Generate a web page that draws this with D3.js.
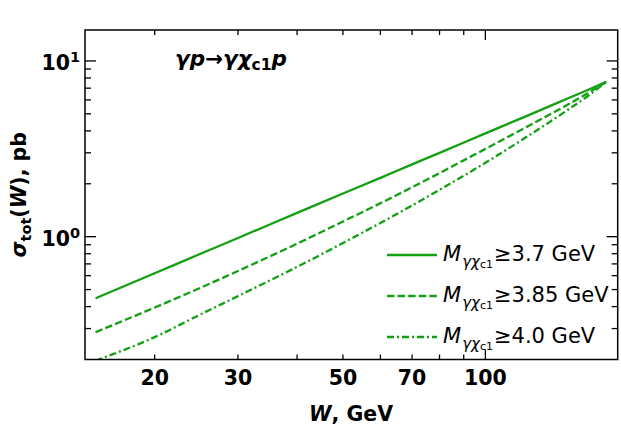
<!DOCTYPE html>
<html>
<head>
<meta charset="utf-8">
<script src="https://cdn.jsdelivr.net/npm/d3@7"></script>
<style>
  body { margin: 0; background: #fff; }
  text { font-family: "DejaVu Sans", sans-serif; }
</style>
</head>
<body>
<svg id="chart" width="621" height="430"></svg>
<script>
// data
const W = [15, 20, 25, 30, 40, 50, 60, 70, 80, 100, 120, 150, 165, 180];
const sig37  = [0.446, 0.619, 0.799, 0.983, 1.365, 1.76, 2.16, 2.58, 3.00, 3.87, 4.76, 6.15, 6.86, 7.6];
const sig385 = [0.286, 0.395, 0.512, 0.638, 0.912, 1.22, 1.55, 1.91, 2.30, 3.16, 4.10, 5.68, 6.58, 7.6];
const sig40  = [0.197, 0.268, 0.361, 0.459, 0.673, 0.92, 1.197, 1.505, 1.846, 2.633, 3.58, 5.31, 6.34, 7.6];
const seriesLabels = ["3.7", "3.85", "4.0"];
const xTickLabels = [20, 30, 50, 70, 100];
const xMinor = [20, 30, 40, 50, 60, 70, 80, 90];
const xMajor = [100];
const yMajor = [1, 10];
const yMinor = [0.3, 0.4, 0.5, 0.6, 0.7, 0.8, 0.9, 2, 3, 4, 5, 6, 7, 8, 9];

const svg = d3.select('#chart');
const pl = 85, pr = 617.7, pt = 30, pb = 359.5;
const green = '#12a012';

const x = d3.scaleLog().domain([14.25, 190.4]).range([pl, pr]);
const y = d3.scaleLog().domain([0.2, 15]).range([pb, pt]);

svg.append('defs').append('clipPath').attr('id', 'clip')
    .append('rect').attr('x', pl).attr('y', pt)
    .attr('width', pr - pl).attr('height', pb - pt);

// curves
const line = d3.line()
    .x(d => x(d[0]))
    .y(d => y(d[1]))
    .curve(d3.curveMonotoneX);

const styles = [
    {data: sig37, dash: null},
    {data: sig385, dash: '7.4,3.2'},
    {data: sig40, dash: '7,3,2,3'}
];

const curves = svg.append('g').attr('clip-path', 'url(#clip)');
styles.forEach(s => {
    curves.append('path')
        .attr('d', line(W.map((w, i) => [w, s.data[i]])))
        .attr('fill', 'none')
        .attr('stroke', green)
        .attr('stroke-width', 2.3)
        .attr('stroke-dasharray', s.dash);
});

// frame
svg.append('rect')
    .attr('x', pl).attr('y', pt)
    .attr('width', pr - pl).attr('height', pb - pt)
    .attr('fill', 'none').attr('stroke', '#000').attr('stroke-width', 1.5);

// ticks, all pointing inward
const ticks = svg.append('g').attr('stroke', '#000').attr('stroke-width', 1.3);
function xTick(v, len) {
    ticks.append('line').attr('x1', x(v)).attr('x2', x(v)).attr('y1', pb).attr('y2', pb - len);
    ticks.append('line').attr('x1', x(v)).attr('x2', x(v)).attr('y1', pt).attr('y2', pt + len);
}
function yTick(v, len) {
    ticks.append('line').attr('y1', y(v)).attr('y2', y(v)).attr('x1', pl).attr('x2', pl + len);
    ticks.append('line').attr('y1', y(v)).attr('y2', y(v)).attr('x1', pr).attr('x2', pr - len);
}
xMinor.forEach(v => xTick(v, 5));
xMajor.forEach(v => xTick(v, 10));
yMinor.forEach(v => yTick(v, 6));
yMajor.forEach(v => yTick(v, 11));

// tick labels
svg.append('g').selectAll('text')
    .data(xTickLabels)
    .enter()
    .append('text')
    .attr('x', d => x(d))
    .attr('y', 385)
    .attr('text-anchor', 'middle')
    .attr('font-size', 20.5)
    .attr('font-weight', 'bold')
    .text(d => d);

const yl = svg.append('g').selectAll('text')
    .data(yMajor)
    .enter()
    .append('text')
    .attr('x', 80)
    .attr('y', d => y(d) + 9.5)
    .attr('text-anchor', 'end')
    .attr('font-weight', 'bold');
yl.append('tspan').attr('font-size', 20.5).text('10');
yl.append('tspan').attr('font-size', 14.5).attr('dy', -8.5).text(d => Math.round(Math.log10(d)));

// axis labels
const xl = svg.append('text')
    .attr('x', 351).attr('y', 421)
    .attr('text-anchor', 'middle')
    .attr('font-size', 20.5)
    .attr('font-weight', 'bold');
xl.append('tspan').attr('font-style', 'italic').text('W');
xl.append('tspan').text(', GeV');

const ylab = svg.append('text')
    .attr('transform', `translate(26,${(pt + pb) / 2}) rotate(-90)`)
    .attr('text-anchor', 'middle')
    .attr('font-size', 20.5)
    .attr('font-weight', 'bold');
ylab.append('tspan').attr('font-style', 'italic').text('σ');
ylab.append('tspan').attr('font-size', 14.5).attr('dy', 5).text('tot');
ylab.append('tspan').attr('dy', -5).text('(');
ylab.append('tspan').attr('font-style', 'italic').text('W');
ylab.append('tspan').text('), pb');

// process title
const title = svg.append('text')
    .attr('x', 175).attr('y', 66)
    .attr('font-size', 21.5)
    .attr('font-weight', 'bold');
title.append('tspan').attr('font-style', 'italic').text('γp');
title.append('tspan').text('→');
title.append('tspan').attr('font-style', 'italic').text('γχ');
title.append('tspan').attr('font-size', 15.5).attr('dy', 4).text('c1');
title.append('tspan').attr('font-style', 'italic').attr('dy', -4).text('p');

// legend
const legend = svg.append('g');
styles.forEach((s, i) => {
    const ly = 255 + i * 41;
    legend.append('line')
        .attr('x1', 387).attr('x2', 437)
        .attr('y1', ly).attr('y2', ly)
        .attr('stroke', green)
        .attr('stroke-width', 2.3)
        .attr('stroke-dasharray', s.dash);
    const t = legend.append('text')
        .attr('x', 443).attr('y', ly + 6)
        .attr('font-size', 21);
    t.append('tspan').attr('font-style', 'italic').text('M');
    t.append('tspan').attr('font-style', 'italic').attr('font-size', 15).attr('dx', 1).attr('dy', 6).text('γχ');
    t.append('tspan').attr('font-size', 11).attr('dy', 1).text('c1');
    t.append('tspan').attr('dx', 1).attr('dy', -7).text('≥' + seriesLabels[i] + ' GeV');
});
</script>
</body>
</html>
